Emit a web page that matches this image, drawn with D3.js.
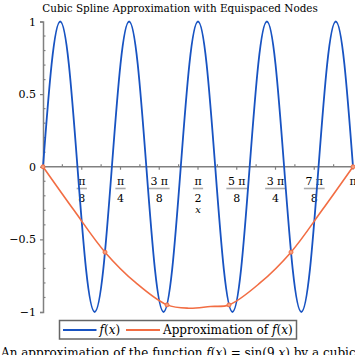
<!DOCTYPE html>
<html><head><meta charset="utf-8">
<script src="https://cdn.jsdelivr.net/npm/d3@7"></script>
<style>
html,body{margin:0;padding:0;background:#fff;overflow:hidden;}
svg{display:block;font-family:"DejaVu Serif",serif;}
</style></head>
<body>
<svg id="chart" width="355" height="355"></svg>
<script>
// ---- data (x in units of π) ----
const sineX = d3.range(0, 37).map(k => k / 36);
const sineY = [0,0.707,1,0.707,0,-0.707,-1,-0.707,
               0,0.707,1,0.707,0,-0.707,-1,-0.707,
               0,0.707,1,0.707,0,-0.707,-1,-0.707,
               0,0.707,1,0.707,0,-0.707,-1,-0.707,
               0,0.707,1,0.707,0];
const approxX = [0,0.1,0.2,0.3,0.4,0.47,0.54,0.6,0.7,0.8,0.9,1];
const approxY = [0,-0.30,-0.588,-0.80,-0.951,-0.974,-0.962,-0.951,-0.80,-0.588,-0.30,0];
const nodeX = [0,0.2,0.4,0.6,0.8,1];
const nodeY = [0,-0.588,-0.951,-0.951,-0.588,0];
const xTickNum = ["π","π","3 π","π","5 π","3 π","7 π"];
const xTickDen = ["8","4","8","2","8","4","8"];
const yTicks = [-1,-0.5,0,0.5,1];
const titleText = "Cubic Spline Approximation with Equispaced Nodes";

const blue = "#1853c2", orange = "#f26d43", axisCol = "#808080";
const svg = d3.select("#chart");
const x = d3.scaleLinear().domain([0,1]).range([43,353]);
const y = d3.scaleLinear().domain([-1,1]).range([312,21.5]);

// title
svg.append("text").attr("x",180).attr("y",11.5).attr("text-anchor","middle")
  .attr("font-size",10.4).text(titleText);

// y axis
const gy = svg.append("g").attr("transform","translate(43,0)");
gy.call(d3.axisLeft(y).tickValues(yTicks).tickSize(3).tickPadding(4)
  .tickFormat(d => d===0 ? "0" : (d<0 ? "\u2212" : "") + Math.abs(d)));
gy.select(".domain").attr("stroke",axisCol).attr("stroke-width",1.5);
gy.selectAll(".tick line").attr("stroke",axisCol).attr("stroke-width",1.2);
gy.selectAll(".tick text").attr("font-size",11).attr("font-family","DejaVu Serif").attr("fill","#000");
gy.selectAll(".minor").data(d3.range(-10,11).filter(k=>k%5!==0).map(k=>k/10)).enter()
  .append("line").attr("x1",0).attr("x2",2.5).attr("y1",d=>y(d)).attr("y2",d=>y(d))
  .attr("stroke",axisCol).attr("stroke-width",1.2);

// x axis at y=0
const gx = svg.append("g").attr("transform",`translate(0,${y(0)})`);
gx.append("line").attr("x1",x(0)).attr("x2",x(1)).attr("stroke",axisCol).attr("stroke-width",1.5);
gx.selectAll(".maj").data(d3.range(1,9).map(k=>k/8)).enter().append("line")
  .attr("x1",d=>x(d)).attr("x2",d=>x(d)).attr("y1",0).attr("y2",3)
  .attr("stroke",axisCol).attr("stroke-width",1.2);
gx.selectAll(".min").data(d3.range(1,16,2).map(k=>k/16)).enter().append("line")
  .attr("x1",d=>x(d)).attr("x2",d=>x(d)).attr("y1",0).attr("y2",-2.5)
  .attr("stroke",axisCol).attr("stroke-width",1.2);

// fraction tick labels
const lab = svg.append("g").attr("font-size",11);
xTickNum.forEach((n,i) => {
  const cx = x((i+1)/8);
  const t = lab.append("text").attr("x",cx).attr("y",185).attr("text-anchor","middle").text(n);
  const w = t.node().getComputedTextLength() + 3;
  lab.append("line").attr("x1",cx-w/2).attr("x2",cx+w/2).attr("y1",188.5).attr("y2",188.5)
    .attr("stroke","#aaa").attr("stroke-width",1.6);
  lab.append("text").attr("x",cx).attr("y",202).attr("text-anchor","middle").text(xTickDen[i]);
});
lab.append("text").attr("x",x(1)).attr("y",185).attr("text-anchor","middle").text("π");
svg.append("text").attr("x",x(0.5)).attr("y",212.5).attr("text-anchor","middle")
  .attr("font-size",10).attr("font-style","italic").text("x");

// curves
const sLine = d3.line().x(d=>x(d[0])).y(d=>y(d[1])).curve(d3.curveNatural);
const aLine = d3.line().x(d=>x(d[0])).y(d=>y(d[1])).curve(d3.curveCatmullRom.alpha(0.5));
svg.append("path").datum(sineX.map((v,i)=>[v,sineY[i]])).attr("d",sLine)
  .attr("fill","none").attr("stroke",blue).attr("stroke-width",1.8);
svg.append("path").datum(approxX.map((v,i)=>[v,approxY[i]])).attr("d",aLine)
  .attr("fill","none").attr("stroke",orange).attr("stroke-width",1.6);
svg.selectAll(".node").data(nodeX.map((v,i)=>[v,nodeY[i]])).enter().append("circle")
  .attr("cx",d=>x(d[0])).attr("cy",d=>y(d[1])).attr("r",2)
  .attr("fill","#f5a080").attr("stroke",orange).attr("stroke-width",1);

// legend
const lg = svg.append("g");
lg.append("rect").attr("x",59.5).attr("y",320.5).attr("width",237).attr("height",18.5)
  .attr("fill","#fff").attr("stroke","#666").attr("stroke-width",1.5);
lg.append("line").attr("x1",63).attr("x2",96.5).attr("y1",330).attr("y2",330).attr("stroke",blue).attr("stroke-width",1.8);
lg.append("line").attr("x1",126).attr("x2",160).attr("y1",330).attr("y2",330).attr("stroke",orange).attr("stroke-width",1.8);
const t1 = lg.append("text").attr("x",99.5).attr("y",334.3).attr("font-size",12);
t1.append("tspan").attr("font-style","italic").text("f");
t1.append("tspan").text("(");
t1.append("tspan").attr("font-style","italic").text("x");
t1.append("tspan").text(")");
const t2 = lg.append("text").attr("x",163).attr("y",334.3).attr("font-size",12);
t2.append("tspan").text("Approximation of ");
t2.append("tspan").attr("font-style","italic").text("f");
t2.append("tspan").text("(");
t2.append("tspan").attr("font-style","italic").text("x");
t2.append("tspan").text(")");

// caption
const cap = svg.append("text").attr("x",1).attr("y",357).attr("font-size",12);
cap.append("tspan").text("An approximation of the function ");
cap.append("tspan").attr("font-style","italic").text("f");
cap.append("tspan").text("(");
cap.append("tspan").attr("font-style","italic").text("x");
cap.append("tspan").text(") = sin(9 ");
cap.append("tspan").attr("font-style","italic").text("x");
cap.append("tspan").text(") by a cubic spline");
</script>
</body></html>
